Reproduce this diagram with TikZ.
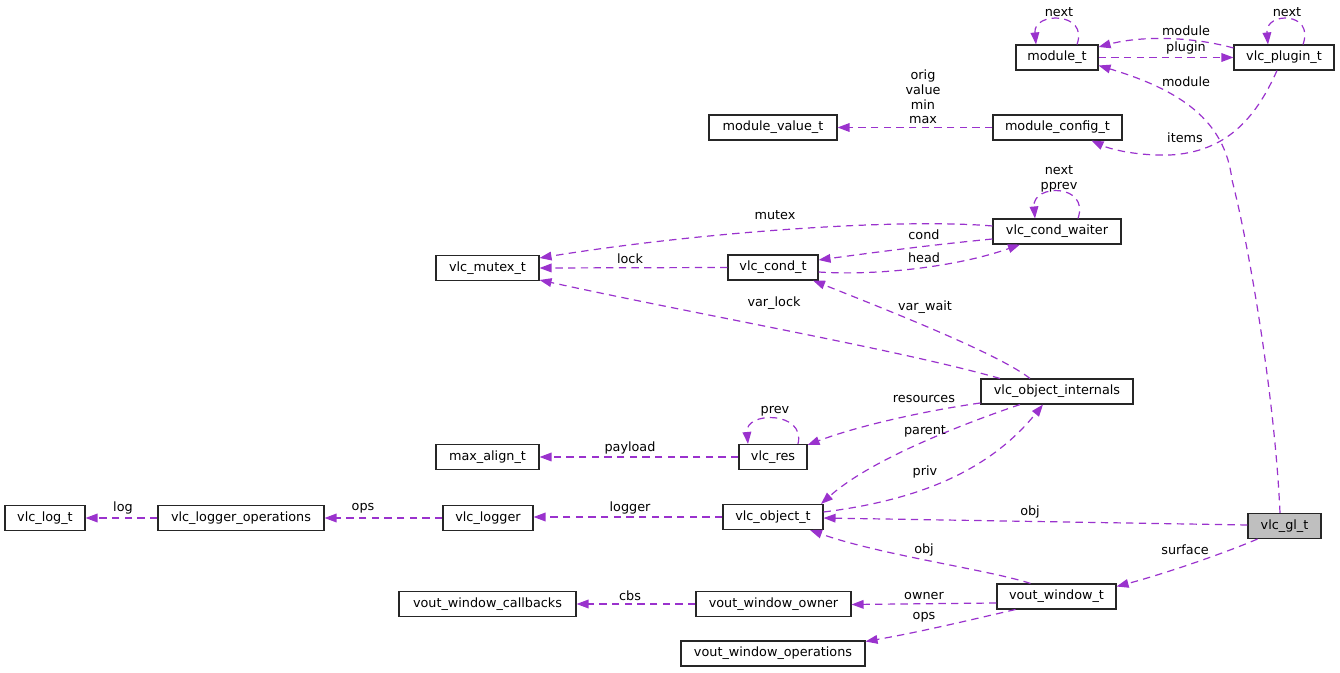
\documentclass[tikz,border=0pt]{standalone}
\usepackage{fontspec}
\setmainfont{DejaVu Sans}
\usetikzlibrary{arrows.meta,calc}
\definecolor{edgec}{HTML}{9A32CD}
\definecolor{glfill}{HTML}{BFBFBF}
\begin{document}
\begin{tikzpicture}[x=0.75pt,y=-0.75pt,
 box/.style={draw=black!85, line width=0.8pt, minimum height=18.75pt, inner sep=0pt, font=\fontsize{9.6pt}{11pt}\selectfont},
 lbl/.style={inner sep=0pt, font=\fontsize{9.6pt}{11pt}\selectfont, align=center, text=black},
 edge/.style={draw=edgec, line width=0.9pt, dash pattern=on 5.5pt off 4pt, -{Triangle[length=9pt,width=6.5pt,fill=edgec]}}]
\useasboundingbox (0,0) rectangle (1340,673);

% nodes
\node[box, minimum width=61.5pt] (module_t) at (1057,57.5) {module\_t};
\node[box, minimum width=75pt] (vlc_plugin_t) at (1284,57.5) {vlc\_plugin\_t};
\node[box, minimum width=96pt] (module_value_t) at (773,127.5) {module\_value\_t};
\node[box, minimum width=96.75pt] (module_config_t) at (1057.5,127.5) {module\_config\_t};
\node[box, minimum width=96pt] (vlc_cond_waiter) at (1057,231.5) {vlc\_cond\_waiter};
\node[box, minimum width=67.5pt] (vlc_cond_t) at (773,267.5) {vlc\_cond\_t};
\node[box, minimum width=77.25pt] (vlc_mutex_t) at (487.5,268) {vlc\_mutex\_t};
\node[box, minimum width=114pt] (vlc_object_internals) at (1057,391.5) {vlc\_object\_internals};
\node[box, minimum width=51pt] (vlc_res) at (773,457) {vlc\_res};
\node[box, minimum width=77.25pt] (max_align_t) at (487.5,457) {max\_align\_t};
\node[box, minimum width=75pt] (vlc_object_t) at (773,517) {vlc\_object\_t};
\node[box, minimum width=67.5pt] (vlc_logger) at (488,518) {vlc\_logger};
\node[box, minimum width=124.5pt] (vlc_logger_operations) at (241,518) {vlc\_logger\_operations};
\node[box, minimum width=60pt] (vlc_log_t) at (45,518) {vlc\_log\_t};
\node[box, minimum width=54.75pt, fill=glfill] (vlc_gl_t) at (1284.5,526) {vlc\_gl\_t};
\node[box, minimum width=89.25pt] (vout_window_t) at (1056.5,596.5) {vout\_window\_t};
\node[box, minimum width=116.25pt] (vout_window_owner) at (773.5,604) {vout\_window\_owner};
\node[box, minimum width=132.75pt] (vout_window_callbacks) at (487.5,604) {vout\_window\_callbacks};
\node[box, minimum width=138pt] (vout_window_operations) at (773,653.5) {vout\_window\_operations};

% edges
\draw[edge] ($(module_t.north)+(20,0)$) .. controls +(12,-33) and +(-3,-33) .. ($(module_t.north)+(-21,0)$);
\draw[edge] ($(vlc_plugin_t.north)+(19,0)$) .. controls +(12,-33) and +(-3,-33) .. ($(vlc_plugin_t.north)+(-16,0)$);
\draw[edge] ($(vlc_plugin_t.west)+(0,-9.5)$) .. controls (1190,36) and (1140,36) .. ($(module_t.east)+(0,-10.5)$);
\draw[edge] ($(module_t.east)+(0,0)$) -- ($(vlc_plugin_t.west)+(0,0)$);
\draw[edge] ($(vlc_gl_t.north)+(-4.5,0)$) .. controls (1275,400) and (1250,250) .. (1232,180) .. controls (1225,120) and (1180,90) .. ($(module_t.east)+(0,8)$);
\draw[edge] ($(vlc_plugin_t.south)+(-7,0)$) .. controls (1255,120) and (1225,152) .. (1170,155) .. controls (1140,156) and (1112,150) .. ($(module_config_t.south)+(34,0)$);
\draw[edge] (module_config_t.west) -- (module_value_t.east);
\draw[edge] ($(vlc_cond_waiter.north)+(21,0)$) .. controls +(12,-35) and +(-3,-35) .. ($(vlc_cond_waiter.north)+(-22,0)$);
\draw[edge] ($(vlc_cond_waiter.west)+(0,-5.5)$) .. controls (900,218) and (700,232) .. ($(vlc_mutex_t.east)+(0,-10)$);
\draw[edge] ($(vlc_cond_waiter.west)+(0,7.5)$) .. controls (930,245) and (870,253) .. ($(vlc_cond_t.east)+(0,-7.5)$);
\draw[edge] ($(vlc_cond_t.east)+(0,4.5)$) .. controls (880,276) and (960,266) .. ($(vlc_cond_waiter.south)+(-37,0)$);
\draw[edge] (vlc_cond_t.west) -- (vlc_mutex_t.east);
\draw[edge] ($(vlc_object_internals.north)+(-57,0)$) .. controls (900,350) and (700,315) .. ($(vlc_mutex_t.east)+(0,12)$);
\draw[edge] ($(vlc_object_internals.north)+(-27,0)$) .. controls (1000,355) and (900,315) .. ($(vlc_cond_t.south)+(40,0)$);
\draw[edge] ($(vlc_object_internals.west)+(0,11.5)$) .. controls (930,410) and (860,425) .. ($(vlc_res.east)+(0,-12)$);
\draw[edge] ($(vlc_res.north)+(25,0)$) .. controls +(8,-33) and +(-3,-33) .. ($(vlc_res.north)+(-25,0)$);
\draw[edge] (vlc_res.west) -- (max_align_t.east);
\draw[edge] ($(vlc_object_internals.south)+(-37,0)$) .. controls (960,425) and (870,460) .. ($(vlc_object_t.north)+(48,0)$);
\draw[edge] ($(vlc_object_t.east)+(0,-5)$) .. controls (920,500) and (990,470) .. ($(vlc_object_internals.south)+(-14,0)$);
\draw[edge] (vlc_object_t.west) -- ($(vlc_logger.east)+(0,-1)$);
\draw[edge] (vlc_logger.west) -- (vlc_logger_operations.east);
\draw[edge] (vlc_logger_operations.west) -- (vlc_log_t.east);
\draw[edge] ($(vlc_gl_t.west)+(0,-1)$) -- ($(vlc_object_t.east)+(0,1)$);
\draw[edge] ($(vlc_gl_t.south)+(-27,0)$) .. controls (1220,555) and (1160,575) .. ($(vout_window_t.east)+(0,-10)$);
\draw[edge] ($(vout_window_t.north)+(-26,0)$) .. controls (990,570) and (880,555) .. ($(vlc_object_t.south)+(37,0)$);
\draw[edge] ($(vout_window_t.west)+(0,6.5)$) -- ($(vout_window_owner.east)+(0,0.5)$);
\draw[edge] (vout_window_owner.west) -- (vout_window_callbacks.east);
\draw[edge] ($(vout_window_t.south)+(-41,0)$) .. controls (970,620) and (920,632) .. ($(vout_window_operations.east)+(0,-12)$);

% labels
\node[lbl] (l1) at (1059,12) {next};
\node[lbl] (l2) at (1186,31) {module};
\node[lbl] (l3) at (1186,48) {plugin};
\node[lbl] (l4) at (1287,12) {next};
\node[lbl] (l5) at (1186,82) {module};
\node[lbl] (l6) at (1185,138) {items};
\node[lbl] (l7) at (923,97) {orig\\value\\min\\max};
\node[lbl] (l8) at (1059,179) {next\\pprev};
\node[lbl] (l9) at (775,215) {mutex};
\node[lbl] (l10) at (924,235) {cond};
\node[lbl] (l11) at (924,258) {head};
\node[lbl] (l12) at (630,259) {lock};
\node[lbl] (l13) at (774,303) {var\_lock};
\node[lbl] (l14) at (925,307) {var\_wait};
\node[lbl] (l15) at (924,399) {resources};
\node[lbl] (l16) at (775,411) {prev};
\node[lbl] (l17) at (630,448) {payload};
\node[lbl] (l18) at (925,431) {parent};
\node[lbl] (l19) at (925,472) {priv};
\node[lbl] (l20) at (630,508) {logger};
\node[lbl] (l21) at (363,508) {ops};
\node[lbl] (l22) at (123,508) {log};
\node[lbl] (l23) at (1030,512) {obj};
\node[lbl] (l24) at (1185,550) {surface};
\node[lbl] (l25) at (924,550) {obj};
\node[lbl] (l26) at (924,596) {owner};
\node[lbl] (l27) at (630,596) {cbs};
\node[lbl] (l28) at (924,617) {ops};
\end{tikzpicture}
\end{document}
